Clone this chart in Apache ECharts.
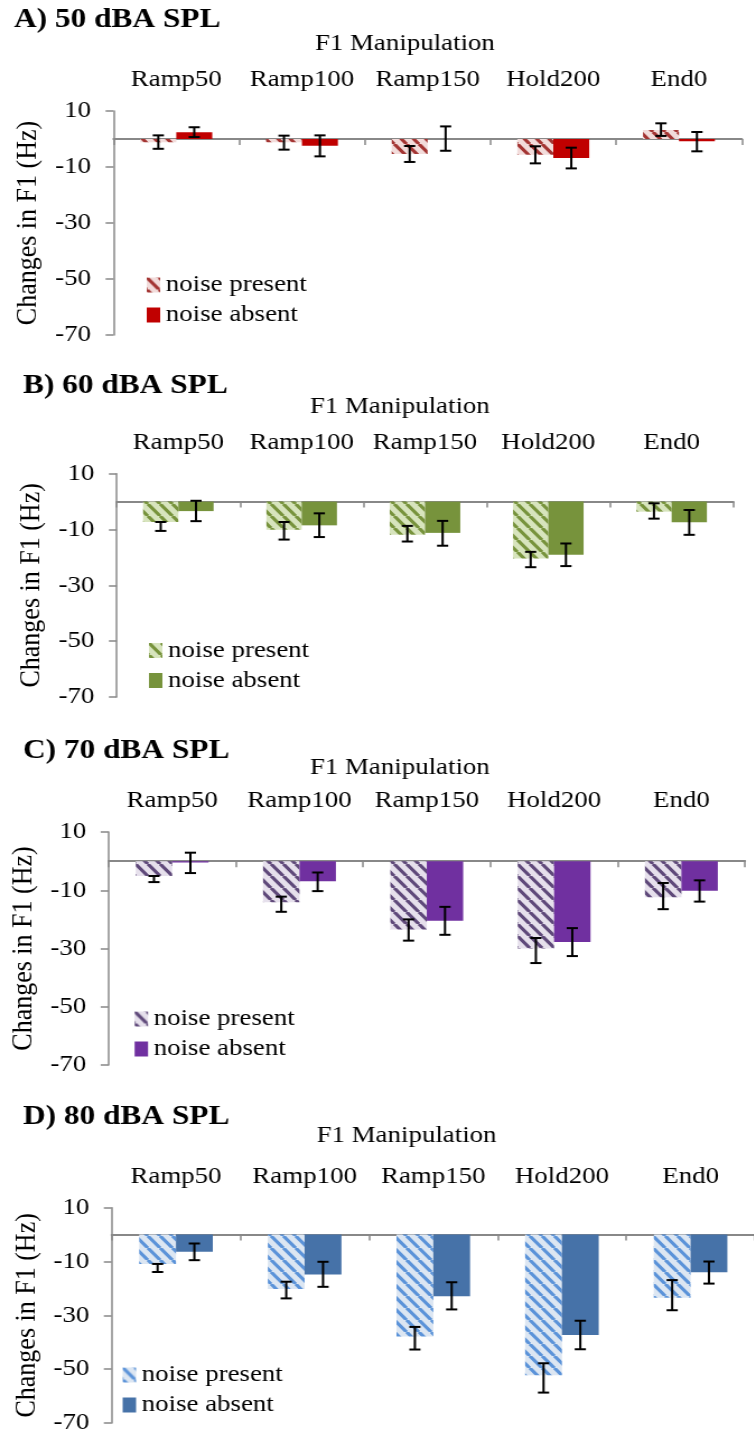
<!DOCTYPE html>
<html>
<head>
<meta charset="utf-8">
<title>Changes in F1 by manipulation and level</title>
<script src="https://cdn.jsdelivr.net/npm/echarts@6/dist/echarts.min.js"></script>
<style>
  html, body { margin: 0; padding: 0; background: #fff; width: 754px; height: 1435px; overflow: hidden; }
  /* each panel is drawn narrower and widened horizontally, giving the wide serif lettering */
  .panel { position: absolute; left: 0; width: 674px; transform: scaleX(1.12); transform-origin: 0 0; }
</style>
</head>
<body>
<div id="pA" class="panel" style="top:0px;height:360px"></div>
<div id="pB" class="panel" style="top:360px;height:360px"></div>
<div id="pC" class="panel" style="top:720px;height:360px"></div>
<div id="pD" class="panel" style="top:1080px;height:355px"></div>
<script>
// ---- data -------------------------------------------------------------
const categories = ['Ramp50', 'Ramp100', 'Ramp150', 'Hold200', 'End0'];
const seriesNames = ['noise present', 'noise absent'];
const axisTitleX = 'F1 Manipulation';
const axisTitleY = 'Changes in F1 (Hz)';
const yMin = -70, yMax = 10, yStep = 20;

// mean change in F1 (Hz)
const present50 = [-1.2, -1.2, -5.4, -5.6, 3.2];
const absent50  = [2.4, -2.4, 0, -6.8, -0.8];
const present60 = [-7.3, -10.1, -11.9, -20.4, -3.6];
const absent60  = [-3.4, -8.5, -11.2, -19.0, -7.4];
const present70 = [-5.1, -14.1, -23.5, -30.0, -12.4];
const absent70  = [-0.5, -6.9, -20.5, -27.8, -10.2];
const present80 = [-10.9, -20.2, -37.9, -52.3, -23.5];
const absent80  = [-6.4, -14.8, -22.9, -37.3, -14.0];

// error-bar ends [upper, lower] (Hz)
const presentErr50 = [[1.3, -3.5], [1.2, -3.8], [-2.5, -8.2], [-2.6, -8.7], [5.6, 1.1]];
const absentErr50  = [[4.2, 0.7], [1.3, -6.2], [4.5, -4.2], [-3.1, -10.5], [2.5, -4.4]];
const presentErr60 = [[-7.3, -10.5], [-7.3, -13.6], [-8.7, -14.3], [-18.0, -23.5], [-0.6, -6.1]];
const absentErr60  = [[0.3, -7.0], [-4.2, -12.7], [-6.9, -15.8], [-15.0, -23.1], [-3.0, -11.9]];
const presentErr70 = [[-5.1, -7.2], [-12.2, -17.4], [-20.0, -27.3], [-26.4, -35.0], [-7.5, -16.5]];
const absentErr70  = [[2.9, -4.1], [-3.9, -10.3], [-15.7, -25.3], [-23.0, -32.6], [-6.6, -13.9]];
const presentErr80 = [[-10.9, -13.9], [-17.5, -23.7], [-34.3, -42.7], [-47.8, -58.7], [-16.9, -28.1]];
const absentErr80  = [[-3.3, -9.5], [-10.1, -19.4], [-17.7, -27.8], [-32.0, -42.6], [-10.0, -18.2]];

// ---- styling ----------------------------------------------------------
const FONT = '"Liberation Serif", "Times New Roman", serif';
const AXIS_GREY = '#888888';
const BAR_FRAC = 0.286;

// diagonal ("\") stripe tile used for the noise-present bars
function stripeTile(bg, fg) {
  const w = 11, h = 12;
  const c = document.createElement('canvas');
  c.width = w; c.height = h;
  const g = c.getContext('2d');
  g.fillStyle = bg;
  g.fillRect(0, 0, w, h);
  g.strokeStyle = fg;
  g.lineWidth = 3.2;
  g.beginPath();
  for (const o of [-w, 0, w]) { g.moveTo(o, 0); g.lineTo(o + w, h); }
  g.stroke();
  return { image: c, repeat: 'repeat' };
}

const panels = [
  { el: 'pA', title: 'A) 50 dBA SPL', present: present50, absent: absent50, pErr: presentErr50, aErr: absentErr50,
    solid: '#C00000', light: '#F2DCDB', stripe: '#A33432',
    titleX: 12.5, titleY: 20, fmX: 361.5, fmY: 44,
    grid: { left: 101.3, top: 111, width: 561, height: 224 },
    legend: { left: 131, top: 273 } },
  { el: 'pB', title: 'B) 60 dBA SPL', present: present60, absent: absent60, pErr: presentErr60, aErr: absentErr60,
    solid: '#77933C', light: '#D7E4BD', stripe: '#77933C',
    titleX: 20.5, titleY: 26, fmX: 357, fmY: 46.5,
    grid: { left: 104.2, top: 113.7, width: 550.5, height: 223.3 },
    legend: { left: 133, top: 278.5 } },
  { el: 'pC', title: 'C) 70 dBA SPL', present: present70, absent: absent70, pErr: presentErr70, aErr: absentErr70,
    solid: '#7030A0', light: '#E6E0EC', stripe: '#5F497A',
    titleX: 20.5, titleY: 31, fmX: 357, fmY: 47.5,
    grid: { left: 92.2, top: 112, width: 573, height: 233 },
    legend: { left: 120.2, top: 287 } },
  { el: 'pD', title: 'D) 80 dBA SPL', present: present80, absent: absent80, pErr: presentErr80, aErr: absentErr80,
    solid: '#4672A8', light: '#DCE6F2', stripe: '#5B93D9',
    titleX: 20.5, titleY: 37, fmX: 363, fmY: 56,
    grid: { left: 99.7, top: 127.7, width: 576.8, height: 216.6 },
    legend: { left: 109.5, top: 283 } }
];

// error bars: vertical whisker with caps, centred over its bar
function errorSeries(pairs, side) {
  return {
    type: 'custom',
    xAxisIndex: 1,
    z: 5,
    silent: true,
    data: pairs.map((p, i) => [i, p[0], p[1]]),
    renderItem: function (params, api) {
      const band = api.size([1, 0])[0];
      const off = band * BAR_FRAC * (side === 0 ? -0.5 : 0.5);
      const top = api.coord([api.value(0), api.value(1)]);
      const bot = api.coord([api.value(0), api.value(2)]);
      const x = top[0] + off;
      const cap = 5;
      const st = { stroke: '#000', lineWidth: 2 };
      return {
        type: 'group',
        children: [
          { type: 'line', shape: { x1: x, y1: top[1], x2: x, y2: bot[1] }, style: st },
          { type: 'line', shape: { x1: x - cap, y1: top[1], x2: x + cap, y2: top[1] }, style: st },
          { type: 'line', shape: { x1: x - cap, y1: bot[1], x2: x + cap, y2: bot[1] }, style: st }
        ]
      };
    }
  };
}

panels.forEach(function (p) {
  const chart = echarts.init(document.getElementById(p.el), null, { renderer: 'canvas' });
  const patternFill = stripeTile(p.light, p.stripe);
  chart.setOption({
    animation: false,
    backgroundColor: '#fff',
    textStyle: { fontFamily: FONT, color: '#000' },
    grid: Object.assign({ containLabel: false }, p.grid),
    graphic: [
      { type: 'text', x: p.titleX, y: p.titleY,
        style: { text: p.title, fontFamily: FONT, fontWeight: 'bold', fontSize: 28, fill: '#000',
                 align: 'left', verticalAlign: 'middle' } },
      { type: 'text', x: p.fmX, y: p.fmY,
        style: { text: axisTitleX, fontFamily: FONT, fontSize: 24, fill: '#000',
                 align: 'center', verticalAlign: 'middle' } }
    ],
    legend: {
      orient: 'vertical',
      left: p.legend.left,
      top: p.legend.top,
      padding: 0,
      itemWidth: 12,
      itemHeight: 15,
      itemGap: 6,
      icon: 'rect',
      selectedMode: false,
      data: seriesNames,
      textStyle: { fontFamily: FONT, fontSize: 24, color: '#000', padding: [0, 0, 0, 0] }
    },
    xAxis: [
      // category names along the top edge of the plot
      { type: 'category', data: categories, position: 'top', gridIndex: 0,
        axisLine: { show: false, onZero: false }, axisTick: { show: false },
        axisLabel: { fontFamily: FONT, fontSize: 24, color: '#000', margin: 19, interval: 0 } },
      // baseline through zero with boundary ticks
      { type: 'category', data: categories, position: 'bottom', gridIndex: 0,
        axisLine: { show: true, onZero: true, onZeroAxisIndex: 0, lineStyle: { color: AXIS_GREY, width: 2 } },
        axisTick: { show: true, length: 6, lineStyle: { color: AXIS_GREY, width: 1.5 } },
        axisLabel: { show: false } }
    ],
    yAxis: {
      type: 'value', min: yMin, max: yMax, interval: yStep,
      axisLine: { show: true, lineStyle: { color: AXIS_GREY, width: 1.5 } },
      axisTick: { show: true, length: 7, lineStyle: { color: AXIS_GREY, width: 1.5 } },
      splitLine: { show: false },
      axisLabel: { fontFamily: FONT, fontSize: 24, color: '#000', margin: 20 },
      name: axisTitleY,
      nameLocation: 'middle',
      nameGap: 53,
      nameTextStyle: { fontFamily: FONT, fontSize: 26, color: '#000' }
    },
    series: [
      { name: seriesNames[0], type: 'bar', xAxisIndex: 1, data: p.present,
        barWidth: (BAR_FRAC * 100) + '%', barGap: '0%',
        itemStyle: { color: patternFill } },
      { name: seriesNames[1], type: 'bar', xAxisIndex: 1, data: p.absent,
        barWidth: (BAR_FRAC * 100) + '%', barGap: '0%',
        itemStyle: { color: p.solid } },
      errorSeries(p.pErr, 0),
      errorSeries(p.aErr, 1)
    ]
  });
});
</script>
</body>
</html>
